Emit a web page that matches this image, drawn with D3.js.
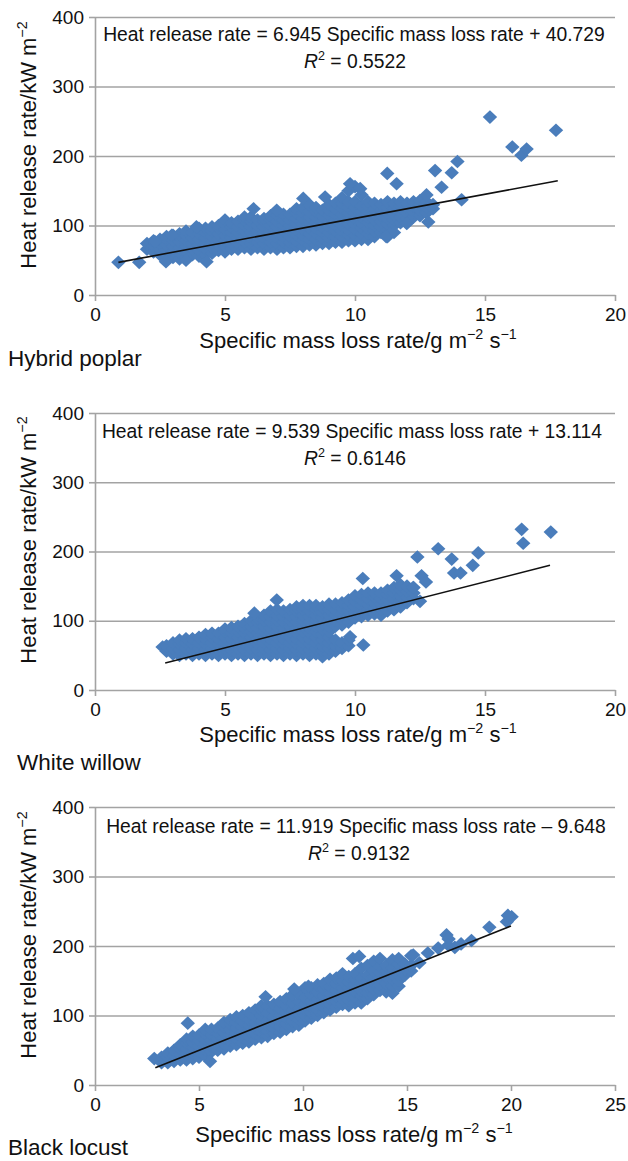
<!DOCTYPE html>
<html>
<head>
<meta charset="utf-8">
<script src="https://cdn.jsdelivr.net/npm/d3@7"></script>
<style>
  body { margin: 0; background: #fff; }
  svg { display: block; font-family: "Liberation Sans", Arial, Helvetica, sans-serif; }
</style>
</head>
<body>
<svg id="chart" width="628" height="1161"></svg>
<script>
// ---- data ----
var speciesNames = ["Hybrid poplar", "White willow", "Black locust"];
var slopes = [6.945, 9.539, 11.919];
var intercepts = [40.729, 13.114, -9.648];
var rSquared = ["0.5522", "0.6146", "0.9132"];
var trendStartX = [0.9, 2.7, 2.9];
var trendEndX = [17.8, 17.5, 20.0];
var xTicks20 = [0, 5, 10, 15, 20];
var xTicks25 = [0, 5, 10, 15, 20, 25];
var yTicks = [0, 100, 200, 300, 400];

// dense cloud, one column per x: [x, y1, y2, ...]
var poplarCols = [
  [2.0, 66, 74], [2.25, 62, 70, 78], [2.5, 58, 66, 74, 80], [2.75, 56, 64, 72, 80, 84],
  [3.0, 54, 62, 70, 78, 86], [3.25, 52, 60, 68, 76, 84, 88], [3.5, 54, 62, 70, 78, 86, 92],
  [3.75, 58, 66, 74, 82, 90], [4.0, 56, 64, 72, 80, 88, 96], [4.25, 58, 66, 74, 82, 90, 96],
  [4.5, 60, 68, 76, 84, 92, 98], [4.75, 64, 72, 80, 88, 96, 100], [5.0, 62, 70, 78, 86, 94, 102, 108],
  [5.25, 66, 74, 82, 90, 98, 104], [5.5, 66, 74, 82, 90, 98, 106], [5.75, 68, 76, 84, 92, 100, 108, 112],
  [6.0, 66, 74, 82, 90, 98, 106, 112], [6.25, 68, 76, 84, 92, 100, 108], [6.5, 66, 74, 82, 90, 98, 106, 110],
  [6.75, 68, 76, 84, 92, 100, 108, 114], [7.0, 66, 74, 82, 90, 98, 106, 114], [7.25, 68, 76, 84, 92, 100, 108, 116],
  [7.5, 68, 76, 84, 92, 100, 108, 116], [7.75, 70, 78, 86, 94, 102, 110, 118, 124],
  [8.0, 70, 78, 86, 94, 102, 110, 118, 126], [8.25, 72, 80, 88, 96, 104, 112, 120, 130],
  [8.5, 72, 80, 88, 96, 104, 112, 120, 126], [8.75, 74, 82, 90, 98, 106, 114, 122],
  [9.0, 74, 82, 90, 98, 106, 114, 122, 130], [9.25, 76, 84, 92, 100, 108, 116, 124, 132],
  [9.5, 76, 84, 92, 100, 108, 116, 124, 132, 140], [9.75, 78, 86, 94, 102, 110, 118, 126, 134, 150],
  [10.0, 78, 86, 94, 102, 110, 118, 126, 134, 156], [10.25, 80, 88, 96, 104, 112, 120, 128, 144],
  [10.5, 80, 88, 96, 104, 112, 120, 128, 134], [10.75, 84, 92, 100, 108, 116, 124, 132],
  [11.0, 90, 98, 106, 114, 122, 130], [11.25, 84, 94, 102, 110, 118, 126, 134],
  [11.5, 90, 100, 108, 116, 124, 132], [11.75, 104, 112, 120, 128, 134], [12.0, 104, 110, 118, 126, 132],
  [12.25, 112, 120, 128, 134], [12.5, 114, 122, 130, 136], [12.75, 118, 126, 134, 144], [13.0, 124, 130]
];
var poplarOut = [
  [0.9, 47], [1.7, 47], [2.3, 77], [2.73, 48], [2.95, 86], [3.5, 50], [3.9, 98], [4.29, 48],
  [6.1, 124], [6.99, 122], [8.01, 139], [8.85, 141], [9.81, 160], [10.2, 153], [11.24, 175],
  [11.6, 160], [11.35, 89], [11.2, 84], [11.99, 103], [12.82, 105], [13.08, 179], [13.33, 155],
  [13.72, 176], [13.94, 192], [14.1, 137], [15.19, 256], [16.05, 213], [16.4, 201], [16.6, 210], [17.73, 237]
];

var willowCols = [
  [2.6, 62], [2.75, 56, 64], [3.0, 52, 60, 68], [3.25, 50, 58, 66, 72], [3.5, 52, 60, 68, 74],
  [3.75, 50, 58, 66, 74], [4.0, 52, 60, 68, 76], [4.25, 50, 58, 66, 74, 80], [4.5, 52, 60, 68, 76, 82],
  [4.75, 50, 58, 66, 74, 82], [5.0, 52, 60, 68, 76, 84, 88], [5.25, 50, 58, 66, 74, 82, 90],
  [5.5, 52, 60, 68, 76, 84, 92], [5.75, 50, 58, 66, 74, 82, 90, 96], [6.0, 52, 60, 68, 76, 84, 92, 100],
  [6.25, 50, 58, 66, 74, 82, 90, 98, 104], [6.5, 52, 60, 68, 76, 84, 92, 100, 108],
  [6.75, 50, 58, 66, 74, 82, 90, 98, 106, 114], [7.0, 52, 60, 68, 76, 84, 92, 100, 108, 116],
  [7.25, 50, 58, 66, 74, 82, 90, 98, 106, 114], [7.5, 52, 60, 68, 76, 84, 92, 100, 108, 116],
  [7.75, 50, 58, 66, 74, 82, 90, 98, 106, 114, 120], [8.0, 52, 60, 68, 76, 84, 92, 100, 108, 116, 122],
  [8.25, 50, 58, 66, 74, 82, 90, 98, 106, 114, 122], [8.5, 52, 60, 68, 76, 84, 92, 100, 108, 116, 122],
  [8.75, 48, 56, 64, 72, 80, 88, 96, 104, 112, 120], [9.0, 52, 60, 68, 76, 84, 92, 100, 108, 116, 124],
  [9.25, 56, 64, 72, 92, 100, 108, 116, 124], [9.5, 60, 68, 94, 102, 110, 118, 126],
  [9.75, 64, 72, 98, 106, 114, 122, 130], [10.0, 104, 112, 120, 128, 136],
  [10.25, 106, 114, 122, 130, 138], [10.5, 108, 116, 124, 132, 140], [10.75, 110, 118, 126, 134, 140],
  [11.0, 108, 116, 124, 132, 140], [11.25, 114, 122, 130, 138, 144], [11.5, 116, 124, 132, 140, 148],
  [11.75, 120, 128, 136, 144, 152], [12.0, 126, 134, 142, 150], [12.25, 132, 140, 148]
];
var willowOut = [
  [6.13, 111], [6.99, 130], [9.81, 77], [10.32, 65], [10.3, 161], [11.6, 165], [12.24, 148],
  [12.5, 128], [12.4, 192], [12.56, 165], [12.73, 156], [13.2, 204], [13.72, 189], [13.81, 169],
  [14.06, 169], [14.53, 180], [14.74, 198], [16.41, 232], [16.47, 212], [17.53, 228]
];

var locustCols = [
  [3.2, 32, 40], [3.5, 32, 40, 46], [3.8, 34, 42, 50], [4.1, 36, 44, 52, 58],
  [4.4, 36, 44, 52, 60, 66], [4.7, 38, 46, 54, 62, 70], [5.0, 40, 48, 56, 64, 72],
  [5.3, 42, 50, 58, 66, 74, 80], [5.6, 48, 56, 64, 72, 80], [5.9, 50, 58, 66, 74, 82],
  [6.2, 52, 60, 68, 76, 84, 90], [6.5, 56, 64, 72, 80, 88, 94], [6.8, 58, 66, 74, 82, 90, 98],
  [7.1, 60, 68, 76, 84, 92, 100], [7.4, 62, 70, 78, 86, 94, 104], [7.7, 66, 74, 82, 90, 98, 108],
  [8.0, 68, 76, 84, 92, 100, 108, 114], [8.3, 70, 78, 86, 94, 104, 114], [8.6, 74, 82, 90, 98, 108, 116],
  [8.9, 76, 84, 92, 100, 110, 120], [9.2, 80, 88, 96, 104, 114, 124], [9.5, 84, 92, 100, 108, 118, 130],
  [9.8, 86, 94, 102, 110, 120, 132], [10.1, 92, 100, 108, 116, 126, 140], [10.4, 96, 104, 112, 120, 130, 140],
  [10.7, 100, 108, 116, 124, 134, 144], [11.0, 104, 112, 120, 128, 138, 146], [11.3, 108, 116, 124, 132, 142, 152],
  [11.6, 112, 120, 128, 136, 146, 154], [11.9, 116, 124, 132, 140, 150, 160], [12.2, 114, 122, 130, 140, 148, 156],
  [12.5, 118, 126, 134, 144, 152, 160], [12.8, 118, 128, 136, 146, 154, 168], [13.1, 124, 132, 142, 150, 158, 172],
  [13.4, 130, 138, 148, 156, 164, 178], [13.7, 136, 144, 154, 162, 170, 182], [14.0, 134, 146, 156, 164, 172],
  [14.3, 132, 142, 152, 160, 168, 180], [14.6, 142, 150, 158, 166, 174, 182], [14.9, 158, 166, 174],
  [15.2, 164, 172, 186], [15.6, 176]
];
var locustOut = [
  [2.85, 38], [4.46, 89], [5.53, 34], [8.2, 127], [9.58, 138], [10.26, 142], [12.4, 182], [12.7, 185],
  [15.3, 187], [16.0, 190], [16.5, 197], [16.9, 216], [17.0, 210], [16.99, 201], [17.3, 198],
  [17.6, 203], [18.1, 208], [18.96, 227], [19.8, 235], [20.03, 242], [19.85, 244]
];

var clouds = [poplarCols, willowCols, locustCols];
var outliers = [poplarOut, willowOut, locustOut];
var xTickSets = [xTicks20, xTicks20, xTicks25];

// ---- layout ----
var panels = [
  { y0: 295, y400: 17, eqY: 41, eqX: 354, r2Y: 68, r2X: 355, xtY: 348, xtX: 358, labX: 8, labY: 366 },
  { y0: 690, y400: 413, eqY: 438, eqX: 352, r2Y: 465, r2X: 355, xtY: 742, xtX: 358, labX: 17, labY: 770 },
  { y0: 1085, y400: 807, eqY: 833, eqX: 356, r2Y: 860, r2X: 359, xtY: 1142, xtX: 354, labX: 8, labY: 1155 }
];
var left = 95, right = 615;
var gray = "#a3a3a3", blue = "#4a7dbb";

function diamond(w, h) {
  return "M0," + (-h) + "L" + w + ",0L0," + h + "L" + (-w) + ",0Z";
}

var svg = d3.select("#chart");

panels.forEach(function(p, i) {
  var xMax = xTickSets[i][xTickSets[i].length - 1];
  var x = d3.scaleLinear().domain([0, xMax]).range([left, right]);
  var y = d3.scaleLinear().domain([0, 400]).range([p.y0, p.y400]);
  var g = svg.append("g");

  // gridlines
  g.append("g")
    .attr("transform", "translate(" + left + ",0)")
    .call(d3.axisLeft(y).tickValues(yTicks.slice(1)).tickSize(-(right - left)).tickFormat(""))
    .call(function(s) { s.select(".domain").remove(); })
    .selectAll("line").attr("stroke", gray).attr("stroke-width", 1.6);

  // y axis
  var ya = g.append("g")
    .attr("transform", "translate(" + left + ",0)")
    .call(d3.axisLeft(y).tickValues(yTicks).tickSize(6).tickSizeOuter(0).tickPadding(5));
  ya.select(".domain").attr("stroke", gray).attr("stroke-width", 1.6);
  ya.selectAll("line").attr("stroke", gray).attr("stroke-width", 1.6);
  ya.selectAll("text").attr("font-size", 19).attr("fill", "#111");
  ya.attr("font-family", null);

  // x axis
  var xa = g.append("g")
    .attr("transform", "translate(0," + p.y0 + ")")
    .call(d3.axisBottom(x).tickValues(xTickSets[i]).tickSize(6).tickSizeOuter(0).tickPadding(7));
  xa.select(".domain").attr("stroke", gray).attr("stroke-width", 1.6);
  xa.selectAll("line").attr("stroke", gray).attr("stroke-width", 1.6);
  xa.selectAll("text").attr("font-size", 19).attr("fill", "#111");
  xa.attr("font-family", null);

  // points
  var pts = [];
  clouds[i].forEach(function(c) {
    c.slice(1).forEach(function(v) { pts.push([c[0], v]); });
  });
  outliers[i].forEach(function(d) { pts.push(d); });

  g.append("g").selectAll("path")
    .data(pts)
    .join("path")
    .attr("d", diamond(7.2, 6.8))
    .attr("transform", function(d) { return "translate(" + x(d[0]) + "," + y(d[1]) + ")"; })
    .attr("fill", blue);

  // trend line
  var trend = [trendStartX[i], trendEndX[i]].map(function(v) { return [v, slopes[i] * v + intercepts[i]]; });
  g.append("path")
    .attr("d", d3.line().x(function(d) { return x(d[0]); }).y(function(d) { return y(d[1]); })(trend))
    .attr("fill", "none").attr("stroke", "#111").attr("stroke-width", 1.6);

  // equation
  var sign = intercepts[i] < 0 ? " \u2013 " : " + ";
  g.append("text")
    .attr("x", p.eqX).attr("y", p.eqY)
    .attr("text-anchor", "middle").attr("font-size", 19.3).attr("fill", "#111")
    .text("Heat release rate = " + slopes[i].toFixed(3) + " Specific mass loss rate" + sign + Math.abs(intercepts[i]).toFixed(3));

  var r2 = g.append("text")
    .attr("x", p.r2X).attr("y", p.r2Y)
    .attr("text-anchor", "middle").attr("font-size", 19.3).attr("fill", "#111");
  r2.append("tspan").attr("font-style", "italic").text("R");
  r2.append("tspan").attr("font-size", "0.65em").attr("dy", "-0.6em").text("2");
  r2.append("tspan").attr("dy", "0.39em").text(" = " + rSquared[i]);

  // x title
  var xt = g.append("text")
    .attr("x", p.xtX).attr("y", p.xtY)
    .attr("text-anchor", "middle").attr("font-size", 22).attr("fill", "#111");
  xt.append("tspan").text("Specific mass loss rate/g m");
  xt.append("tspan").attr("font-size", "0.65em").attr("dy", "-0.6em").text("\u22122");
  xt.append("tspan").attr("dy", "0.39em").text(" s");
  xt.append("tspan").attr("font-size", "0.65em").attr("dy", "-0.6em").text("\u22121");

  // y title
  var yt = g.append("text")
    .attr("transform", "translate(36," + (p.y0 - 150) + ") rotate(-90)")
    .attr("text-anchor", "middle").attr("font-size", 22).attr("fill", "#111");
  yt.append("tspan").text("Heat release rate/kW m");
  yt.append("tspan").attr("font-size", "0.65em").attr("dy", "-0.6em").text("\u22122");

  // species label
  g.append("text")
    .attr("x", p.labX).attr("y", p.labY)
    .attr("font-size", 22.5).attr("fill", "#111")
    .text(speciesNames[i]);
});
</script>
</body>
</html>
